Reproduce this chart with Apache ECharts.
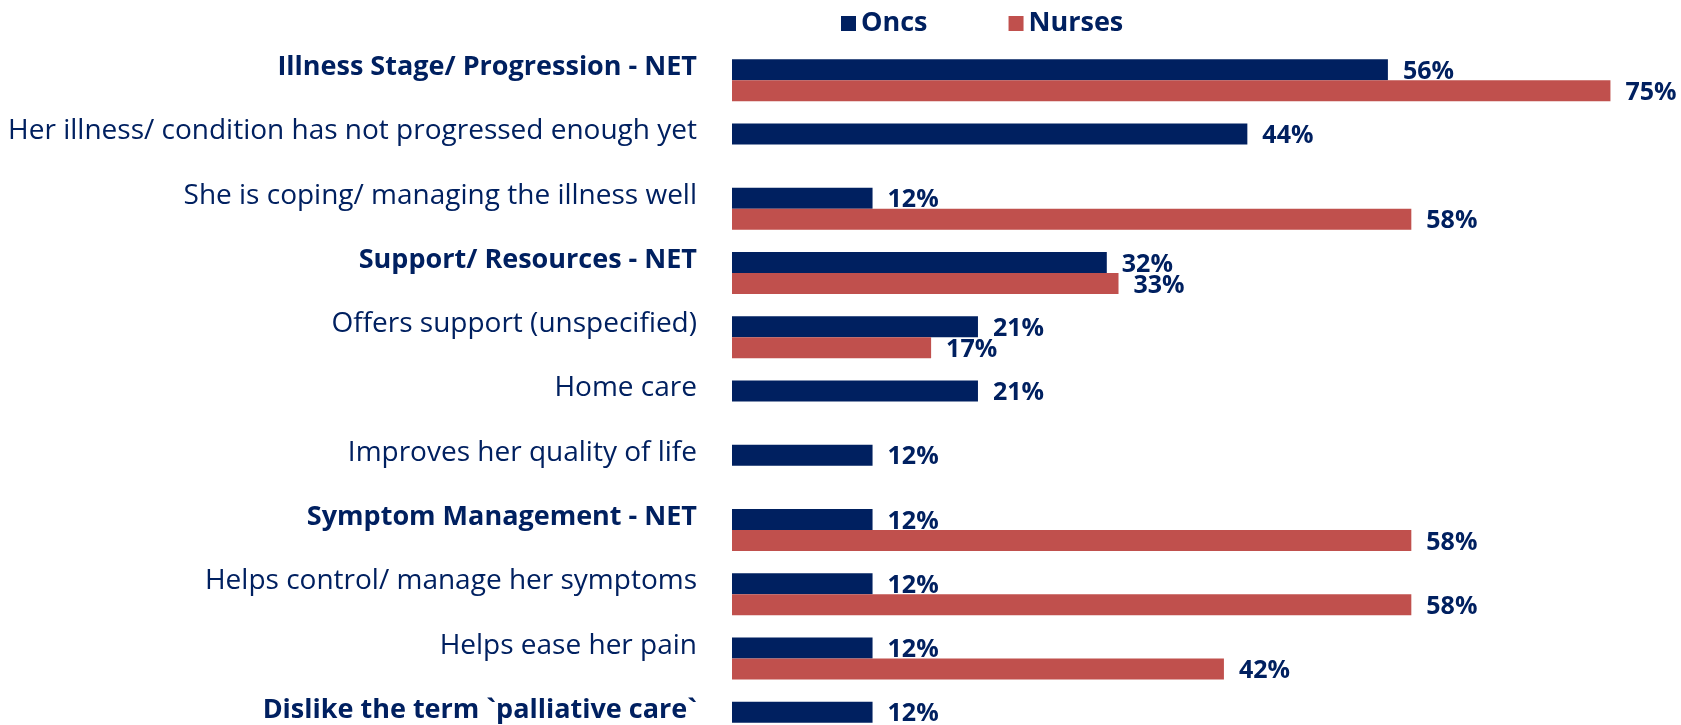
<!DOCTYPE html>
<html>
<head>
<meta charset="utf-8">
<script src="https://cdn.jsdelivr.net/npm/echarts@6/dist/echarts.min.js"></script>
<style>
  html, body { margin: 0; padding: 0; background: #fff; height: 725px; overflow: hidden; }
  /* the last row is cut off by the bottom of the window, as in the slide */
  #chart { width: 1681px; height: 760px; }
</style>
</head>
<body>
<div id="chart"></div>
<script>
var categories = [
  'Illness Stage/ Progression - NET',
  'Her illness/ condition has not progressed enough yet',
  'She is coping/ managing the illness well',
  'Support/ Resources - NET',
  'Offers support (unspecified)',
  'Home care',
  'Improves her quality of life',
  'Symptom Management - NET',
  'Helps control/ manage her symptoms',
  'Helps ease her pain',
  'Dislike the term `palliative care`'
]
// NET rows are shown in bold
var netRows = [
  'Illness Stage/ Progression - NET',
  'Support/ Resources - NET',
  'Symptom Management - NET',
  'Dislike the term `palliative care`'
]
var oncs = [56, 44, 12, 32, 21, 21, 12, 12, 12, 12, 12]
var nurses = [75, '-', 58, 33, 17, '-', '-', 58, 58, 42, '-']

var navy = '#002060'
var red = '#C0504D'
var font = '"Open Sans", sans-serif'

var chart = echarts.init(document.getElementById('chart'))

var valueLabel = {
  show: true,
  position: 'right',
  distance: 15,
  offset: [0, 2],
  color: navy,
  fontFamily: font,
  fontWeight: 'bold',
  fontSize: 25,
  formatter: function (p) { return p.value + '%' }
}

chart.setOption({
  animation: false,
  legend: {
    left: 836,
    top: 5,
    itemWidth: 15,
    itemHeight: 15,
    itemGap: 81,
    icon: 'rect',
    textStyle: {
      color: navy,
      fontFamily: font,
      fontWeight: 'bold',
      fontSize: 27
    },
    data: ['Oncs', 'Nurses']
  },
  grid: {
    left: 732,
    right: 12,
    top: 48,
    height: 707,
    containLabel: false
  },
  xAxis: {
    type: 'value',
    min: 0,
    max: 80,
    show: false
  },
  yAxis: {
    type: 'category',
    inverse: true,
    data: categories,
    axisLine: { show: false },
    axisTick: { show: false },
    axisLabel: {
      interval: 0,
      margin: 35,
      verticalAlign: 'bottom',
      formatter: function (v) {
        return netRows.indexOf(v) >= 0 ? '{b|' + v + '}' : '{n|' + v + '}'
      },
      rich: {
        b: { color: navy, fontFamily: font, fontWeight: 'bold', fontSize: 27, lineHeight: 26 },
        n: { color: navy, fontFamily: font, fontSize: 28, lineHeight: 26 }
      }
    }
  },
  series: [
    {
      name: 'Oncs',
      type: 'bar',
      barWidth: 21,
      barGap: '0%',
      itemStyle: { color: navy },
      label: valueLabel,
      data: oncs
    },
    {
      name: 'Nurses',
      type: 'bar',
      barWidth: 21,
      barGap: '0%',
      itemStyle: { color: red },
      label: valueLabel,
      data: nurses
    }
  ]
})
</script>
</body>
</html>
